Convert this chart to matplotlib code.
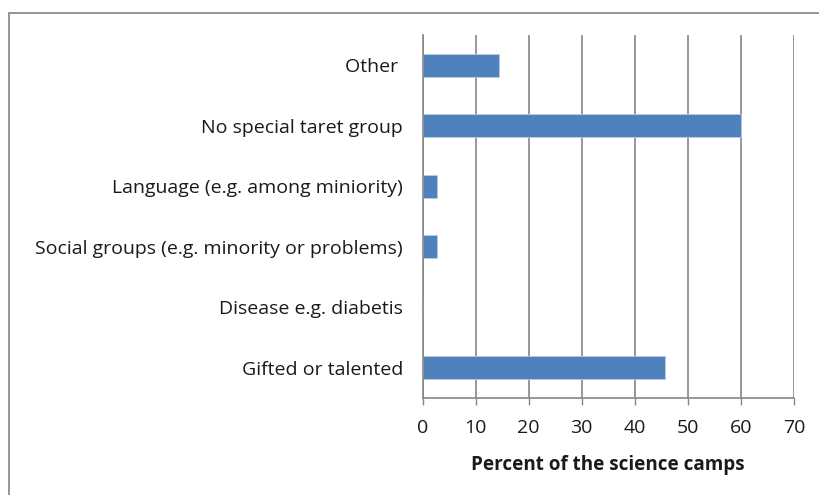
import matplotlib
matplotlib.use("Agg")
import matplotlib.pyplot as plt
from matplotlib.patches import Rectangle

# data (percent of the science camps)
groups = ["Gifted or talented",
          "Disease e.g. diabetis",
          "Social groups (e.g. minority or problems)",
          "Language (e.g. among miniority)",
          "No special taret group",
          "Other "]
percent = [45.6, 0, 2.8, 2.8, 60, 14.4]
xticks = [0, 10, 20, 30, 40, 50, 60, 70]

plt.rcParams['font.family'] = ['Open Sans', 'DejaVu Sans']

fig = plt.figure(figsize=(8.19, 4.95), dpi=100)
ax = fig.add_axes([0.5159, 0.196, 0.9695 - 0.5159, 0.9293 - 0.196])

# outer chart frame (clipped at right/bottom like the screenshot)
fig.patches.append(Rectangle((9 / 819, -0.1), 1.2, 1 - 12.7 / 495 + 0.1,
                             transform=fig.transFigure, fill=False,
                             edgecolor='#8c8c8c', linewidth=1.3))

ypos = list(range(len(groups)))
ax.barh(ypos, percent, height=0.38, color='#4f81bd', edgecolor='#b9cde5',
        linewidth=0.6, zorder=3)

ax.set_xlim(0, 70)
ax.set_ylim(-0.5, len(groups) - 0.5)
ax.set_xticks(xticks)
ax.set_yticks(ypos)
ax.set_yticklabels(groups, fontsize=14, color='#1a1a1a')
ax.tick_params(axis='y', length=0, pad=14)
ax.tick_params(axis='x', length=5, width=1, color='#868686', labelsize=14,
               pad=10, labelcolor='#1a1a1a')

ax.grid(axis='x', color='#868686', linewidth=1.2, zorder=0)
for s in ['top', 'right']:
    ax.spines[s].set_visible(False)
ax.spines['left'].set_color('#868686')
ax.spines['bottom'].set_color('#868686')
ax.spines['left'].set_linewidth(1.2)
ax.spines['bottom'].set_linewidth(1.2)
ax.spines['left'].set_zorder(4)

ax.set_xlabel('Percent of the science camps', fontsize=13.6, fontweight='bold',
              labelpad=13, color='#1a1a1a')

fig.savefig('out.png', dpi=100)
